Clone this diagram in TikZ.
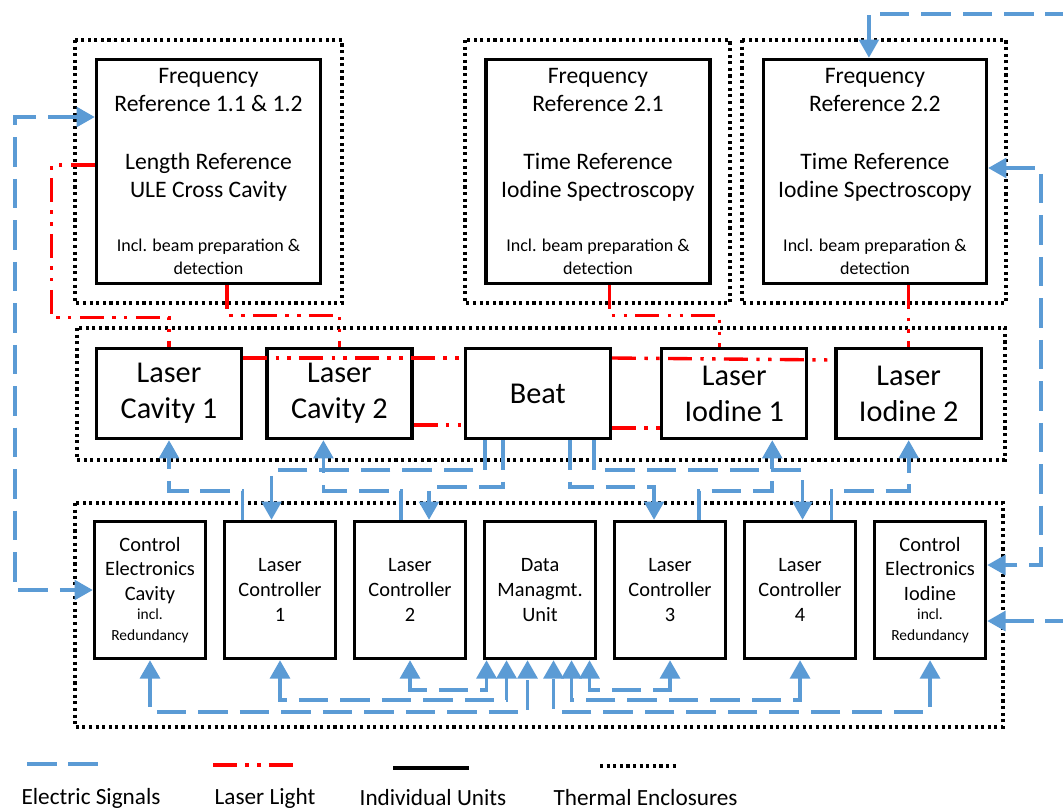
\documentclass[tikz,border=0pt]{standalone}
\usepackage{fontspec}
\setmainfont{Carlito}
\usetikzlibrary{arrows.meta,positioning,calc}
\definecolor{sigblue}{RGB}{91,155,213}
\tikzset{
  unitbox/.style={draw, line width=2.4pt, inner sep=0pt, align=center},
  refbox/.style={unitbox, minimum height=5.6cm, font=\fontsize{16.8}{20}\selectfont},
  laserbox/.style={unitbox, minimum width=3.625cm, minimum height=2.25cm, font=\fontsize{21.5}{25.5}\selectfont},
  ctrlbox/.style={unitbox, minimum width=2.775cm, minimum height=3.425cm, font=\fontsize{14.5}{17.5}\selectfont},
  enclosure/.style={line width=2.3pt, dash pattern=on 2.2pt off 2.5pt},
  signal/.style={draw=sigblue, line width=2.6pt, dash pattern=on 21pt off 8.5pt},
  light/.style={draw=red, line width=2.4pt, dash pattern=on 17pt off 6pt on 2.4pt off 6pt on 2.4pt off 6pt},
  legendtext/.style={font=\fontsize{16.5}{20}\selectfont},
}
\newcommand{\finetext}[1]{{\fontsize{12.8}{15}\selectfont #1}}
\newcommand{\tinytext}[1]{{\fontsize{11}{13}\selectfont #1}}

\begin{document}
\begin{tikzpicture}[x=0.025cm, y=-0.025cm, >={Triangle[width=14pt,length=13pt]}]
    \useasboundingbox[fill=white] (0,0) rectangle (1063,811);

    % thermal enclosures
    \draw[enclosure] (75,40) rectangle (342,303);
    \draw[enclosure] (465,40) rectangle (730,303);
    \draw[enclosure] (742,40) rectangle (1006,303);
    \draw[enclosure] (77,328) rectangle (1005,460);
    \draw[enclosure] (75,503) rectangle (1003,727);

    % references
    \node[refbox, minimum width=5.6cm] (frone) at (208.5,171.5) {Frequency\\Reference 1.1 \& 1.2\\[21.3pt]Length Reference\\ULE Cross Cavity\\[18.4pt]\finetext{Incl. beam preparation \&}\\[-3.6pt]\finetext{detection}};
    \node[refbox, minimum width=5.6cm, right=4.05cm of frone] (frtwoone) {Frequency\\Reference 2.1\\[21.3pt]Time Reference\\Iodine Spectroscopy\\[18.4pt]\finetext{Incl. beam preparation \&}\\[-3.6pt]\finetext{detection}};
    \node[refbox, minimum width=5.575cm, right=1.25cm of frtwoone] (frtwotwo) {Frequency\\Reference 2.2\\[21.3pt]Time Reference\\Iodine Spectroscopy\\[18.4pt]\finetext{Incl. beam preparation \&}\\[-3.6pt]\finetext{detection}};

    % lasers
    \node[laserbox] (lcavone) at (169,393.5) {Laser\\Cavity 1};
    \node[laserbox, right=0.55cm of lcavone] (lcavtwo) {Laser\\Cavity 2};
    \node[laserbox, right=1.25cm of lcavtwo] (beat) {Beat};
    \node[laserbox, right=1.2cm of beat] (lione) {Laser\\Iodine 1};
    \node[laserbox, right=0.65cm of lione] (litwo) {Laser\\Iodine 2};

    % electronics
    \node[ctrlbox] (cec) at (150,590) {Control\\Electronics\\Cavity\\[-4pt]\tinytext{incl.}\\[-2.5pt]\tinytext{Redundancy}};
    \node[ctrlbox, right=0.39cm of cec] (lcone) {Laser\\Controller\\1};
    \node[ctrlbox, right=0.39cm of lcone] (lctwo) {Laser\\Controller\\2};
    \node[ctrlbox, right=0.39cm of lctwo] (dmu) {Data\\Managmt.\\Unit};
    \node[ctrlbox, right=0.39cm of dmu] (lcthree) {Laser\\Controller\\3};
    \node[ctrlbox, right=0.39cm of lcthree] (lcfour) {Laser\\Controller\\4};
    \node[ctrlbox, right=0.39cm of lcfour] (cei) {Control\\Electronics\\Iodine\\[-4pt]\tinytext{incl.}\\[-2.5pt]\tinytext{Redundancy}};

    \coordinate (topfeed) at (1075,14);
    \coordinate (sidefeed) at (1075,621);

    % laser light
    \draw[light] ($(frone.west)+(0,-6.5)$) -- ++(-43,0) |- ($(lcavone.north)+(0,-29)$) -- (lcavone.north);
    \draw[light] ($(frone.south)+(18.5,0)$) -- ++(0,30) -| (lcavtwo.north);
    \draw[light] ($(frtwoone.south)+(11.5,0)$) -- ++(0,30) -| ($(lione.north)+(-15,0)$);
    \draw[light] (litwo.north |- frtwotwo.south) -- (litwo.north);
    \draw[light] ($(lcavone.east)+(0,-35.5)$) -- ($(beat.west)+(0,-35.5)$);
    \draw[light] ($(lcavtwo.east)+(0,31.5)$) -- ($(beat.west)+(0,31.5)$);
    \draw[light] ($(beat.east)+(0,-35.5)$) -- ($(litwo.west)+(0,-33.5)$);
    \draw[light] ($(beat.east)+(0,34.5)$) -- ($(lione.west)+(0,34.5)$);

    % electric signals
    \draw[signal, <->] ($(frone.west)+(0,-54.5)$) -- ++(-80,0) |- (cec.west);
    \draw[signal, ->] (topfeed) -| ($(frtwotwo.north)+(-6,0)$);
    \draw[signal, <->] ($(frtwotwo.east)+(0,-3.5)$) -- ++(53,0) |- ($(cei.east)+(0,-25)$);
    \draw[signal, ->] (sidefeed) -- ($(cei.east)+(0,31)$);

    \draw[signal, ->] ($(lcone.north)+(-37.5,0)$) -- ++(0,-29) -| (lcavone.south);
    \draw[signal, ->] ($(beat.south)+(-53,0)$) -- ++(0,30) -| ($(lcone.north)+(-8.5,0)$);
    \draw[signal, ->] ($(lctwo.north)+(-9,0)$) -- ++(0,-29) -| ($(lcavtwo.south)+(-16,0)$);
    \draw[signal, ->] ($(beat.south)+(-35,0)$) -- ++(0,47) -| ($(lctwo.north)+(19,0)$);
    \draw[signal, ->] ($(beat.south)+(56,0)$) -- ++(0,30) -| ($(lcfour.north)+(2.5,0)$);
    \draw[signal, ->] ($(beat.south)+(32,0)$) -- ++(0,47) -| ($(lcthree.north)+(-16,0)$);
    \draw[signal, ->] ($(lcthree.north)+(29,0)$) -- ++(0,-29) -| ($(lione.south)+(38,0)$);
    \draw[signal, ->] ($(lcfour.north)+(31.5,0)$) -- ++(0,-29) -| (litwo.south);

    \draw[signal, <->] (lctwo.south) -- ++(0,30) -| ($(dmu.south)+(-53.5,0)$);
    \draw[signal, <->] (lcone.south) -- ++(0,40) -| ($(dmu.south)+(-33.5,0)$);
    \draw[signal, <->] (cec.south) -- ++(0,52) -| ($(dmu.south)+(-12.5,0)$);
    \draw[signal, <->] (cei.south) -- ++(0,52) -| ($(dmu.south)+(13.5,0)$);
    \draw[signal, <->] (lcfour.south) -- ++(0,40) -| ($(dmu.south)+(31.5,0)$);
    \draw[signal, <->] (lcthree.south) -- ++(0,30) -| ($(dmu.south)+(49.5,0)$);

    % legend
    \draw[signal] (27,764) -- (102,764);
    \draw[light] (213,765) -- (297,765);
    \draw[line width=2.4pt] (393,768) -- (469,768);
    \draw[enclosure] (600,766) -- (676,766);
    \node[legendtext] (legsignal) at (91,798) {Electric Signals};
    \node[legendtext] (leglight) at (265,798) {Laser Light};
    \node[legendtext] (legunit) at (433,798) {Individual Units};
    \node[legendtext] (legencl) at (645.5,798) {Thermal Enclosures};
\end{tikzpicture}
\end{document}
